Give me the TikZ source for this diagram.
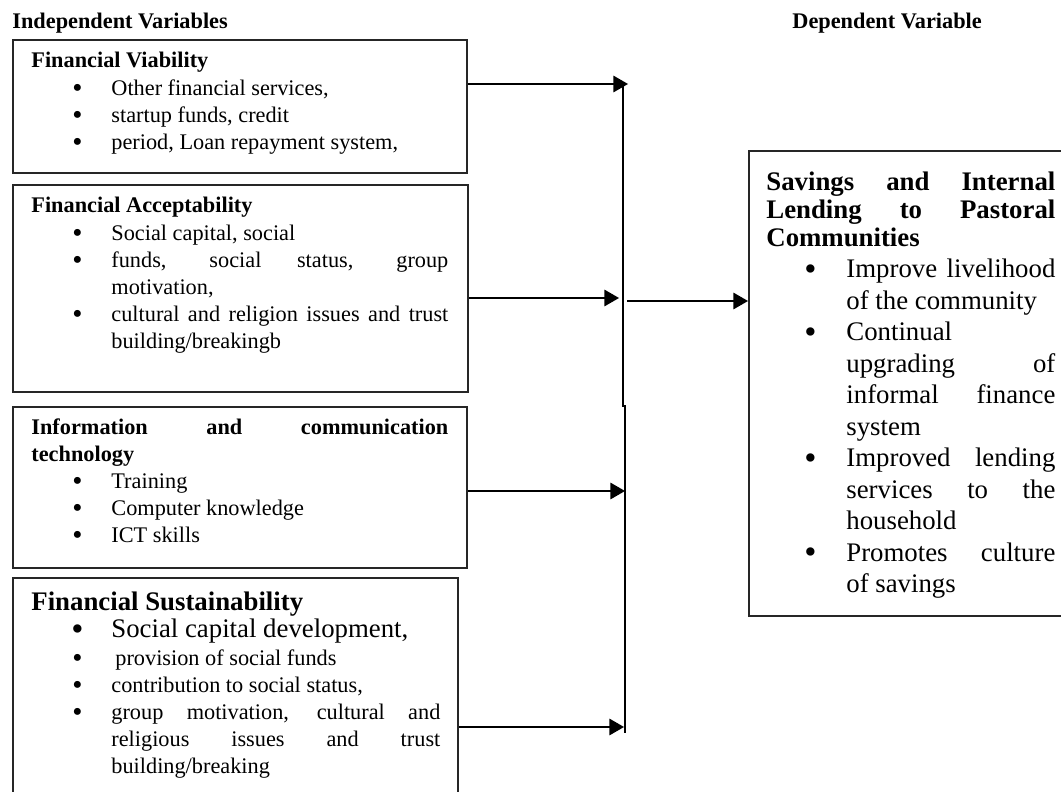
\documentclass[tikz,border=0pt]{standalone}
\usepackage{fontspec}
\setmainfont{Liberation Serif}
\usetikzlibrary{positioning,arrows}
\tikzset{
  varbox/.style={draw=black!85, line width=0.9pt, inner sep=0pt, anchor=north west},
  boxtext/.style={inner sep=0pt, anchor=north west, align=justify},
  link/.style={draw=black, line width=1pt, -triangle 60},
  bus/.style={draw=black, line width=0.9pt}
}
\newcommand{\lfont}{\fontsize{11.15pt}{13.6pt}\selectfont\parskip=0pt}
\newcommand{\bfont}{\fontsize{13.4pt}{13.5pt}\selectfont}
\newcommand{\rfont}{\fontsize{13.4pt}{15.75pt}\selectfont\parskip=0pt}
\newcommand{\mybullet}{\raisebox{-0.09em}{\scalebox{1.3}{\textbullet}}}
\newcommand{\bul}[2][14.5pt]{\par\hangindent=40pt\hangafter=0\noindent\llap{\mybullet\hspace{#1}}#2\par}
\hbadness=10000

\begin{document}
\begin{tikzpicture}[x=0.5pt,y=-0.5pt]
  \useasboundingbox (0,0) rectangle (1061,792);
  \clip (0,0) rectangle (1061,792);
  % headings
  \node[anchor=base west,inner sep=0pt,font=\lfont\bfseries] (indep) at (12,29) {Independent Variables};
  \node[anchor=base west,inner sep=0pt,font=\lfont\bfseries] (dep) at (792,29) {Dependent Variable};
  % independent variable boxes
  \node[varbox,minimum width=227pt,minimum height=66.5pt] (fv) at (12,39) {};
  \node[varbox,minimum width=227.5pt,minimum height=103.5pt] (fa) at (12,184) {};
  \node[varbox,minimum width=227pt,minimum height=80.5pt] (ict) at (12,406) {};
  \node[varbox,minimum width=222.5pt,minimum height=225pt] (fs) at (12,577) {};
  \node[boxtext,text width=208.5pt,font=\lfont] (fvtext) at (31,52) {%
    \noindent\textbf{Financial Viability}
    \bul{Other financial services,}
    \bul{startup funds, credit}
    \bul{period, Loan repayment system,}};
  \node[boxtext,text width=208.5pt,font=\lfont] (fatext) at (31,197) {%
    \noindent\textbf{Financial Acceptability}
    \bul{Social capital, social}
    \bul{funds, social status, group\linebreak motivation,}
    \bul{cultural and religion issues and trust\linebreak building/breakingb}};
  \node[boxtext,text width=208.5pt,font=\lfont] (icttext) at (31,418) {%
    \noindent\textbf{Information and communication\linebreak technology}
    \bul{Training}
    \bul{Computer knowledge}
    \bul{ICT skills}};
  \node[boxtext,text width=204.5pt,font=\lfont] (fstext) at (31,592) {%
    \noindent{\bfont\textbf{Financial Sustainability}\par}
    {\bfont\bul[13.95pt]{Social capital development,}}
    \bul{\hspace{2pt}provision of social funds}
    \bul{contribution to social status,}
    \bul{group motivation, cultural and\linebreak religious issues and trust\linebreak building/breaking}};
  % dependent variable box
  \node[varbox,minimum width=165pt,minimum height=232.5pt] (sil) at (748,150) {};
  \node[boxtext,text width=144.5pt,font=\rfont] (siltext) at (766,171.5) {%
    \noindent{\baselineskip=14pt\textbf{Savings and Internal\linebreak Lending to Pastoral\linebreak Communities}\par}
    \bul[14.95pt]{Improve livelihood\linebreak of the community}
    \bul[14.95pt]{Continual\linebreak upgrading of\linebreak informal finance\linebreak system}
    \bul[14.95pt]{Improved lending\linebreak services to the\linebreak household}
    \bul[14.95pt]{Promotes culture\linebreak of savings}};
  % junction line and arrows
  \coordinate (busA) at (623,84);
  \coordinate (busB) at (623,406);
  \coordinate (busC) at (625,406);
  \coordinate (busD) at (625,733);
  \coordinate (in1) at (628,84);
  \coordinate (in2) at (619,298);
  \coordinate (in3) at (625,491);
  \coordinate (in4) at (624,727);
  \coordinate (out) at (627,301);
  \draw[bus] (busA) -- (busB) -- (busC) -- (busD);
  \draw[link] (fv.east |- in1) -- (in1);
  \draw[link] (fa.east |- in2) -- (in2);
  \draw[link] (ict.east |- in3) -- (in3);
  \draw[link] (fs.east |- in4) -- (in4);
  \draw[link] (out) -- (sil.west |- out);
\end{tikzpicture}
\end{document}
